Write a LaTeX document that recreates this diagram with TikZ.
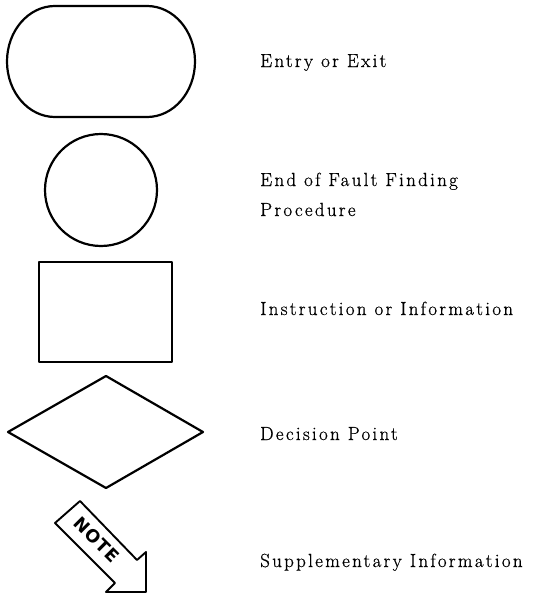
\documentclass[tikz,border=0pt]{standalone}
\usepackage{fontspec}
\newfontfamily\notefont{DejaVu Sans}[LetterSpace=4]
\newfontfamily\labelfont{Latin Modern Roman}[LetterSpace=12,FakeBold=0.6]
\begin{document}
\begin{tikzpicture}[x=1pt,y=-1pt,
  symbol/.style={draw=black,line width=2.2pt,line join=round},
  legend/.style={anchor=base west,inner sep=0pt,font=\labelfont\fontsize{19}{22}\selectfont},
  notelabel/.style={inner sep=0pt,rotate=-45,font=\notefont\bfseries\fontsize{17.5}{19}\selectfont}]
\useasboundingbox (0,0) rectangle (535,594);

% terminal: entry or exit (y axis points down, so angles run clockwise)
\draw[symbol] (55,6) -- (147,6) arc[start angle=-90,end angle=90,x radius=48,y radius=55.5]
  -- (55,117) arc[start angle=90,end angle=270,x radius=48,y radius=55.5] -- cycle;
\coordinate (terminal) at (101,61.5);

% end of procedure
\node[symbol,circle,minimum size=112pt,inner sep=0pt] (endproc) at (101,190) {};

% instruction box
\draw[symbol] (39,262) rectangle (172,362);
\coordinate (instr) at (105.5,312);

% decision diamond
\draw[symbol] (8,432) -- (106,376) -- (203,432) -- (106,488) -- cycle;
\coordinate (decision) at (106,432);

% note arrow pointing down-right
\coordinate (tailA) at (55,523);
\coordinate (tailB) at (80,501);
\coordinate (neckB) at (137,560);
\coordinate (headB) at (146,552);
\coordinate (tip) at (146,592);
\coordinate (headA) at (106,592);
\coordinate (neckA) at (115,583);
\draw[symbol,line width=1.9pt] (tailA) -- (tailB) -- (neckB) -- (headB) -- (tip) -- (headA) -- (neckA) -- cycle;
\node[notelabel] (note) at (97,540) {NOTE};

% legend texts
\node[legend] (lterm) at (260,67) {Entry or Exit};
\node[legend] (lend1) at (260,186) {End of Fault Finding};
\node[legend] (lend2) at (260,216) {Procedure};
\node[legend] (linstr) at (260,315) {Instruction or Information};
\node[legend] (ldec) at (260,440) {Decision Point};
\node[legend] (lnote) at (260,567) {Supplementary Information};
\end{tikzpicture}
\end{document}
